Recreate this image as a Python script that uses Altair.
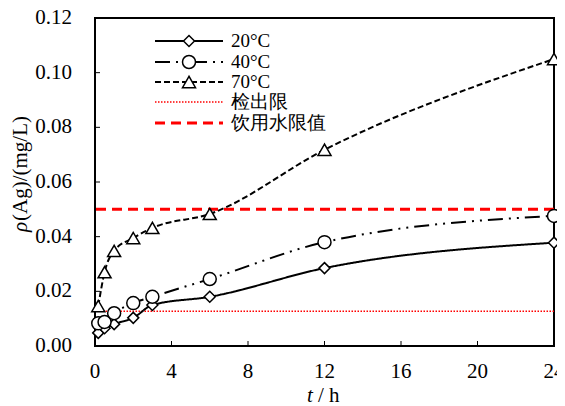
import altair as alt
import pandas as pd

# ---- data ----
times = [0.17, 0.5, 1, 2, 3, 6, 12, 24]
s20 = [0.0048, 0.0065, 0.0080, 0.0103, 0.0150, 0.0180, 0.0285, 0.0378]
s40 = [0.0083, 0.0088, 0.0120, 0.0157, 0.0180, 0.0245, 0.0380, 0.0476]
s70 = [0.0146, 0.0270, 0.0348, 0.0395, 0.0432, 0.0483, 0.0718, 0.1050]
series_names = ["20°C", "40°C", "70°C"]
limit_names = ["检出限", "饮用水限值"]
limit_values = [0.0127, 0.05]
x_ticks = [0, 4, 8, 12, 16, 20, 24]
x_tick_labels = ["0", "4", "8", "12", "16", "20", "24"]
y_ticks = [0, 0.02, 0.04, 0.06, 0.08, 0.10, 0.12]
y_tick_labels = ["0.00", "0.02", "0.04", "0.06", "0.08", "0.10", "0.12"]
x_title = ["t", "/ h"]
y_title = ["ρ", "(Ag)/(mg/L)"]

FONT = "Liberation Serif"
W, H = 459, 328
FS = 21
LFS = 19

shapes = ["diamond", "circle", "triangle-up"]
sizes = [121, 169, 169]
dashes = [[1, 0], [15, 6, 2, 6, 2, 6], [6, 3]]

xs = alt.Scale(domain=[0, 24], nice=False)
ys = alt.Scale(domain=[0, 0.12], nice=False)

empty_axis = alt.Axis(labels=False, ticks=False, domain=False, grid=False, title="")
xenc = alt.X("t:Q", scale=xs, axis=empty_axis)
yenc = alt.Y("v:Q", scale=ys, axis=empty_axis)

layers = []

# limit lines
lim_df0 = pd.DataFrame({"v": [limit_values[0]], "name": [limit_names[0]]})
lim_df1 = pd.DataFrame({"v": [limit_values[1]], "name": [limit_names[1]]})
layers.append(alt.Chart(lim_df0).mark_rule(color="#ff0000", strokeWidth=1.5, strokeDash=[1.5, 1.5]).encode(y=yenc))
layers.append(alt.Chart(lim_df1).mark_rule(color="#ff0000", strokeWidth=3, strokeDash=[10, 6]).encode(y=yenc))

# series
for name, vals, shp, sz, dsh in zip(series_names, [s20, s40, s70], shapes, sizes, dashes):
    df = pd.DataFrame({"t": times, "v": vals, "s": name})
    base = alt.Chart(df)
    layers.append(base.mark_line(color="black", strokeWidth=2, strokeDash=dsh, interpolate="monotone").encode(x=xenc, y=yenc))
    layers.append(base.mark_point(shape=shp, size=sz, filled=True, fill="white", stroke="black", strokeWidth=1.5, opacity=1).encode(x=xenc, y=yenc))

# inward ticks
xt = pd.DataFrame({"t": x_ticks[1:-1]})
yt = pd.DataFrame({"v": y_ticks[1:-1]})
layers.append(alt.Chart(xt).mark_rule(color="black", strokeWidth=1).encode(x=xenc, y=alt.value(H), y2=alt.value(H - 5)))
layers.append(alt.Chart(yt).mark_rule(color="black", strokeWidth=1).encode(y=yenc, x=alt.value(0), x2=alt.value(5)))

# tick labels (serif), positioned by the scales
xl = pd.DataFrame({"t": x_ticks, "lab": x_tick_labels})
yl = pd.DataFrame({"v": y_ticks, "lab": y_tick_labels})
layers.append(alt.Chart(xl).mark_text(align="center", baseline="alphabetic", font=FONT, fontSize=FS, color="black").encode(
    x=xenc, y=alt.value(H + 32), text="lab:N"))
layers.append(alt.Chart(yl).mark_text(align="right", baseline="middle", font=FONT, fontSize=FS, color="black").encode(
    y=yenc, x=alt.value(-23), text="lab:N"))

# axis titles with italic symbols
def txt(s, x, y, italic=False, angle=0, size=FS):
    d = pd.DataFrame({"label": [s]})
    kw = dict(align="left", baseline="alphabetic", font=FONT, fontSize=size, color="black")
    if italic:
        kw["fontStyle"] = "italic"
    if angle:
        kw["angle"] = angle
    return alt.Chart(d).mark_text(**kw).encode(x=alt.value(x), y=alt.value(y), text="label:N")

layers.append(txt(x_title[0], 212, 384, italic=True))
layers.append(txt(x_title[1], 223, 384))
layers.append(txt(y_title[0], -68, 214, italic=True, angle=270))
layers.append(txt(y_title[1], -68, 203, angle=270))

# manual legend
leg_rows = [23, 44, 64, 84, 105]
lx1, lx2, lm, lt = 60, 128, 94, 136
for i, name in enumerate(series_names):
    d = pd.DataFrame({"label": [name]})
    layers.append(alt.Chart(d).mark_rule(color="black", strokeWidth=2, strokeDash=dashes[i]).encode(
        x=alt.value(lx1), x2=alt.value(lx2), y=alt.value(leg_rows[i])))
    layers.append(alt.Chart(d).mark_point(shape=shapes[i], size=sizes[i], filled=True, fill="white", stroke="black",
                                          strokeWidth=1.5, opacity=1).encode(x=alt.value(lm), y=alt.value(leg_rows[i])))
    layers.append(alt.Chart(d).mark_text(align="left", baseline="middle", font=FONT, fontSize=LFS, color="black").encode(
        x=alt.value(lt), y=alt.value(leg_rows[i]), text="label:N"))
lim_styles = [dict(strokeWidth=1.5, strokeDash=[1.5, 1.5]), dict(strokeWidth=3, strokeDash=[10, 6])]
for j, name in enumerate(limit_names):
    d = pd.DataFrame({"label": [name]})
    ry = leg_rows[3 + j]
    layers.append(alt.Chart(d).mark_rule(color="#ff0000", **lim_styles[j]).encode(
        x=alt.value(lx1), x2=alt.value(lx2), y=alt.value(ry)))
    layers.append(alt.Chart(d).mark_text(align="left", baseline="middle", font=FONT, fontSize=LFS, color="black").encode(
        x=alt.value(lt), y=alt.value(ry), text="label:N"))

chart = alt.layer(*layers).properties(
    width=W, height=H,
    autosize=alt.AutoSizeParams(type="none"),
    padding={"left": 87, "top": 10, "right": 3, "bottom": 60},
).configure_view(stroke="black", strokeWidth=2)

chart.save("out.html", embed_options={"renderer": "svg", "actions": False})
